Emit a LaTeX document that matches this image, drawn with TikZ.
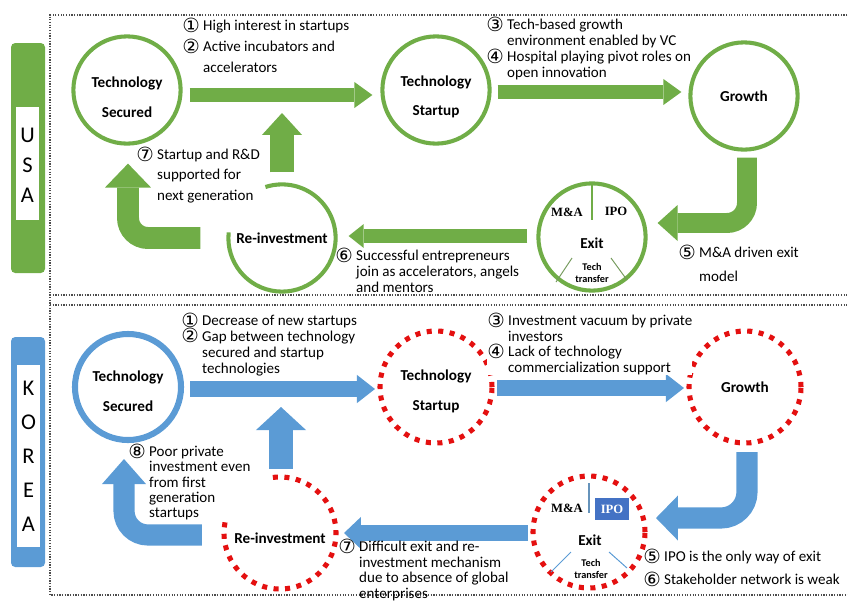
\documentclass[tikz,border=0pt]{standalone}
\usepackage{graphicx}
\usepackage{fontspec}
\setmainfont{Carlito}
\newfontfamily\numfont{DejaVu Sans}
\newfontfamily\seriffont{Liberation Serif}
\usetikzlibrary{
    arrows.meta,
    positioning,
    calc
}
\definecolor{usgreen}{RGB}{112,173,71}
\definecolor{krblue}{RGB}{91,155,213}
\definecolor{krdarkblue}{RGB}{68,114,196}
\definecolor{krred}{RGB}{228,16,16}
\newcommand{\cn}[1]{\smash{\raisebox{-0.1em}{\scalebox{1.3}{\numfont\char\numexpr"245F+#1\relax}}}}
\newcommand{\ind}{\phantom{\cn{1}\ }}
\tikzset{
    % Frames and country tags
    frame/.style={densely dotted, line width=0.9pt, black!70},
    tag letters/.style={align=center, inner sep=0pt, font=\fontsize{16}{#1}\selectfont},
    %
    % Rings
    ring/.style={circle, inner sep=0pt, outer sep=0pt, minimum size=#1},
    ring text/.style={align=center, font=\bfseries\fontsize{10.8}{21}\selectfont, yshift=#1},
    ring text/.default=0pt,
    us line/.style={draw=usgreen, line width=2.9pt},
    weak line/.style={draw=krred, line width=3.6pt, dash pattern=on 3.6pt off 4.6pt},
    us ring/.style={ring=2.68cm, us line},
    kr ring/.style={ring=2.65cm, draw=krblue, line width=4.3pt},
    kr weak/.style={ring=2.8cm, weak line},
    %
    % Exit parts
    exit name/.style={inner sep=0pt, font=\bfseries\fontsize{10.8}{12}\selectfont},
    exit way/.style={inner sep=0pt, font=\seriffont\bfseries\fontsize{9}{10}\selectfont},
    exit small/.style={inner sep=0pt, align=center, font=\bfseries\fontsize{7.3}{8.5}\selectfont},
    %
    % Block arrows
    block/.style n args={4}{draw=#1, line width=#2, -{Triangle[width=#3, length=#4, line width=0pt]}},
    %
    % Notes
    note/.style={anchor=north west, inner sep=0pt, align=left, font=\fontsize{10.7}{#1}\selectfont},
    note/.default=11.3pt
}

\begin{document}
\begin{tikzpicture}[x=0.025cm, y=-0.025cm]
        \useasboundingbox (0,0) rectangle (848,600);
        
        % frames
        \draw[frame] (850,15) -| (50,595) -- (850,595);
        \draw[frame] (50,295) -- (850,295);
        \draw[frame] (50,305) -- (850,305);
        
        % country tags
        \fill[usgreen, rounded corners=3pt] (11,43) rectangle (45,273);
        \fill[white] (16,107) rectangle (39,220);
        \node[tag letters=21.3pt] (us tag) at (27.5,165) {U\\S\\A};
        \fill[krblue, rounded corners=3pt] (11,337) rectangle (45,567);
        \fill[white] (17,365) rectangle (40,547);
        \node[tag letters=24.2pt] (kr tag) at (28.5,456) {K\\O\\R\\E\\A};
        
        % USA
        \node[us ring, label={[ring text=-5pt]center:{Technology\\Secured}}] (us secured) at (127,90) {};
        \node[us ring, label={[ring text=-5pt]center:{Technology\\Startup}}] (us startup) at (436,90) {};
        \node[us ring, label={[ring text]center:Growth}] (us growth) at (744,96) {};
        \node[us ring] (us exit) at (592,237) {};
        \node[us ring, draw=none, label={[ring text]center:Re-investment}] (us reinv) at (282,238) {};
        \draw[us line] (us reinv.174) arc[start angle=174, end angle=468, radius=1.34cm];
        
        \draw[usgreen, line width=1.2pt] (us exit.north) -- ($(us exit)+(0,-17)$);
        \draw[usgreen!60!gray, line width=0.7pt] ($(us exit)+(-20,21)$) -- ($(us exit)+(-36,45)$);
        \draw[usgreen!60!gray, line width=0.7pt] ($(us exit)+(19,21)$) -- ($(us exit)+(35,43)$);
        \node[exit way] (us ma) at ($(us exit)+(-25,-25)$) {M\&A};
        \node[exit way] (us ipo) at ($(us exit)+(24,-26)$) {IPO};
        \node[exit name] (us exit name) at ($(us exit)+(0,6)$) {Exit};
        \node[exit small] (us transfer) at ($(us exit)+(0,36)$) {Tech\\transfer};
        
        \coordinate (us join) at (282,113);
        \draw[block={usgreen}{10pt}{18.5pt}{12.8pt}] ($(us secured.east)+(9,5)$) -- ($(us startup.west)+(-10,5)$);
        \draw[block={usgreen}{10.5pt}{18.5pt}{12.8pt}] ($(us startup.east)+(8,2)$) -- ($(us growth.west)+(-9,-4)$);
        \draw[block={usgreen}{14.2pt}{25.6pt}{14.2pt}, rounded corners=0.5cm] ($(us growth.south)+(3,8)$) |- ($(us exit.east)+(12,-14)$);
        \draw[block={usgreen}{10pt}{17pt}{10.7pt}] ($(us exit.west)+(-11,-1)$) -- ($(us reinv.east)+(13,-2)$);
        \draw[block={usgreen}{15.6pt}{32.7pt}{17pt}, rounded corners=0.5cm] ($(us reinv.west)+(-28,0)$) -| ($(us secured.south)+(1,20)$);
        \draw[block={usgreen}{16.4pt}{28.5pt}{15.6pt}] ($(us reinv.north)+(0,-12)$) -- (us join);
        
        \node[note=15pt] (us note a) at (182,20) {\cn{1} High interest in startups\\\cn{2} Active incubators and\\\ind accelerators};
        \node[note] (us note b) at (486,19) {\cn{3} Tech-based growth\\\ind environment enabled by VC\\\cn{4} Hospital playing pivot roles on\\\ind open innovation};
        \node[note=17pt] (us note c) at (678,247) {\cn{5} M\&A driven exit\\\ind model};
        \node[note] (us note d) at (335,250) {\cn{6} Successful entrepreneurs\\\ind join as accelerators, angels\\\ind and mentors};
        \node[note=14.4pt] (us note e) at (136,149) {\cn{7} Startup and R\&D\\\ind supported for\\\ind next generation};
        
        % KOREA
        \node[kr ring, label={[ring text=-3pt]center:{Technology\\Secured}}] (kr secured) at (128,387) {};
        \node[kr weak, label={[ring text=-3pt]center:{Technology\\Startup}}] (kr startup) at (436,387) {};
        \node[kr weak, label={[ring text]center:Growth}] (kr growth) at (745,387) {};
        \node[kr weak] (kr exit) at (589,532) {};
        \node[kr weak, draw=none, label={[ring text=-3.5pt]center:Re-investment}] (kr reinv) at (280,533) {};
        \draw[weak line] (kr reinv.169) arc[start angle=169, end angle=459, radius=1.4cm];
        
        \draw[krblue!70!gray, line width=1pt] ($(kr exit)+(0,-49)$) -- ($(kr exit)+(0,-19)$);
        \draw[krblue, line width=0.7pt] ($(kr exit)+(-18,20)$) -- ($(kr exit)+(-38,40)$);
        \draw[krblue, line width=0.7pt] ($(kr exit)+(20,20)$) -- ($(kr exit)+(38,36)$);
        \node[exit way] (kr ma) at ($(kr exit)+(-22,-24)$) {M\&A};
        \node[exit way, fill=krdarkblue, text=white, minimum width=0.85cm, minimum height=0.55cm] (kr ipo) at ($(kr exit)+(23,-23)$) {IPO};
        \node[exit name] (kr exit name) at ($(kr exit)+(1,8)$) {Exit};
        \node[exit small] (kr transfer) at ($(kr exit)+(2,37)$) {Tech\\transfer};
        
        \coordinate (kr join) at (281,407);
        \draw[block={krblue}{11.4pt}{20pt}{12.8pt}] ($(kr secured.east)+(9,2)$) -- ($(kr startup.west)+(-5,2)$);
        \draw[block={krblue}{11.4pt}{20pt}{12.8pt}] ($(kr startup.east)+(5,1)$) -- ($(kr growth.west)+(-5,1)$);
        \draw[block={krblue}{15pt}{32pt}{15.6pt}, rounded corners=0.65cm] ($(kr growth.south)+(2,9)$) |- ($(kr exit.east)+(11,-14)$);
        \draw[block={krblue}{12pt}{22.8pt}{12pt}] ($(kr exit.west)+(-5,1)$) -- ($(kr reinv.east)+(8,0)$);
        \draw[block={krblue}{15pt}{31.3pt}{17.8pt}, rounded corners=0.6cm] ($(kr reinv.west)+(-22,2)$) -| ($(kr secured.south)+(-4,19)$);
        \draw[block={krblue}{17pt}{35.6pt}{16.4pt}] ($(kr reinv.north)+(1,-8)$) -- (kr join);
        
        \node[note] (kr note a) at (181,315) {\cn{1} Decrease of new startups\\\cn{2} Gap between technology\\\ind secured and startup\\\ind technologies};
        \node[note=11pt, fill=white] (kr note b) at (487,315) {\cn{3} Investment vacuum by private\\\ind investors\\\cn{4} Lack of technology\\\ind commercialization support};
        \node[note=16.4pt] (kr note c) at (643,551) {\cn{5} IPO is the only way of exit\\\cn{6} Stakeholder network is weak};
        \node[note=11pt] (kr note d) at (338,541) {\cn{7} Difficult exit and re-\\\ind investment mechanism\\\ind due to absence of global\\\ind enterprises};
        \node[note=10.9pt] (kr note e) at (128,446) {\cn{8} Poor private\\\ind investment even\\\ind from first\\\ind generation\\\ind startups};
\end{tikzpicture}
\end{document}
